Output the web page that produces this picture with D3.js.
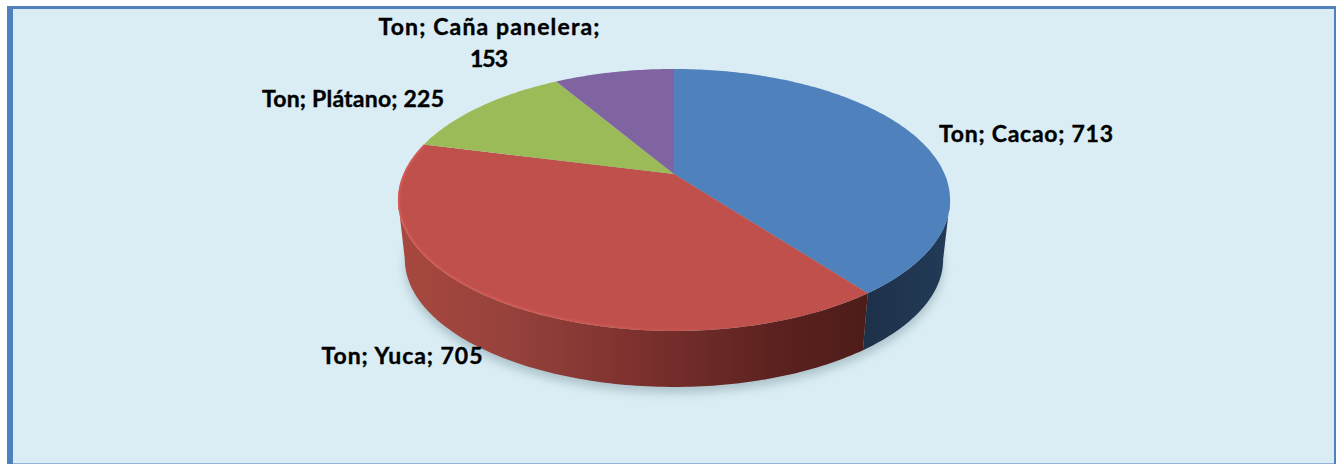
<!DOCTYPE html>
<html><head><meta charset="utf-8">
<script src="https://cdn.jsdelivr.net/npm/d3@7"></script>
<style>html,body{margin:0;padding:0;background:#fff;overflow:hidden}svg{display:block}</style>
</head><body><svg id="c" width="1336" height="464"></svg>
<script>
const categories = ["Cacao","Yuca","Plátano","Caña panelera"];
const values = [713,705,225,153];
const seriesName = "Ton";
const labelLines = categories.map((n,i)=>{
  const full=`${seriesName}; ${n}; ${values[i]}`;
  return n.length>10?[`${seriesName}; ${n};`,`${values[i]}`]:[full];
});

// layout and style
const topColors = ["#4f81bd","#bf504c","#9bbb59","#8064a2"];
const labelPos = [[1026,142],[402,364],[353,107],[489,35]];
const labelW = [[174],[161],[182],[221,38]];
const svg=d3.select("#c");
const defs=svg.append("defs");
// perspective disc
const cx=674, apexY=174, R=270.6, persp=-0.198, spread=91.4;
const baseScale=.975, baseShift=59.3, midY=200;
const project=t=>{const x=Math.sin(t),y=-Math.cos(t),d=1+persp*y;return [cx+R*x/d,(apexY+spread*y)/d];};
const projectBase=(t,extra=0)=>{const p=project(t);return [cx+(p[0]-cx)*baseScale,midY+(p[1]-midY)*baseScale+baseShift+extra];};
const sample=(f,t0,t1)=>{const n=Math.max(2,Math.ceil(Math.abs(t1-t0)*60));
  return d3.range(n+1).map(i=>f(t0+(t1-t0)*i/n));};
const line=d3.line();
const pie=d3.pie().sort(null).value(d=>d)(values);

// panel
svg.append("rect").attr("x",7).attr("y",6).attr("width",1329).attr("height",458).attr("fill","#4f81bd");
svg.append("rect").attr("x",13).attr("y",9).attr("width",1321).attr("height",454).attr("fill","#daedf4");
svg.append("rect").attr("x",13).attr("y",463).attr("width",1321).attr("height",1).attr("fill","#95b3d7");

// filters and gradients
defs.append("filter").attr("id","blur6").attr("x","-10%").attr("y","-10%").attr("width","120%").attr("height","130%")
  .append("feGaussianBlur").attr("stdDeviation",5);
defs.append("filter").attr("id","blur1").attr("x","-10%").attr("y","-10%").attr("width","120%").attr("height","120%")
  .append("feGaussianBlur").attr("stdDeviation",1.1);
const grad=(id,stops)=>{const g=defs.append("linearGradient").attr("id",id).attr("gradientUnits","userSpaceOnUse")
  .attr("x1",398).attr("x2",950).attr("y1",0).attr("y2",0);
  stops.forEach(s=>g.append("stop").attr("offset",s[0]).attr("stop-color",s[1]).attr("stop-opacity",s[2]===undefined?1:s[2]));};
grad("wall0",[[0,"#1d3149"],[.85,"#1d3149"],[1,"#233b58"]]);
grad("wall1",[[0,"#a8483f"],[.2,"#97423c"],[.45,"#7a302d"],[.7,"#5a211e"],[.85,"#4d1c19"]]);
grad("rim",[[0,"#e0615b",.8],[.25,"#e0615b",.7],[.55,"#d85c57",.3],[.8,"#c0504d",0]]);
const wallFill=["url(#wall0)","url(#wall1)","#6f8a3e","#5c4878"];

// visible range of the side wall
const vis=[Math.PI-Math.acos(0.198),Math.PI+Math.acos(0.198)];

// ground shadow
svg.append("path").attr("d",line(sample(t=>projectBase(t,6),0,2*Math.PI))+"Z")
  .attr("fill","#8fa6ad").attr("opacity",.6).attr("filter","url(#blur6)");

// side walls
const walls=svg.append("g");
pie.forEach((p,i)=>{
  const t0=Math.max(p.startAngle,vis[0]),t1=Math.min(p.endAngle,vis[1]);
  if(t1<=t0)return;
  const pts=sample(project,t0,t1).concat(sample(projectBase,t1,t0));
  walls.append("path").attr("d",line(pts)+"Z").attr("fill",wallFill[i]);
});

// top face
const topFace=svg.append("g");
pie.forEach((p,i)=>{
  const pts=[[cx,apexY]].concat(sample(project,p.startAngle,p.endAngle));
  topFace.append("path").attr("d",line(pts)+"Z").attr("fill",topColors[i]);
});
// rim highlight along the front and left edge of the largest front slice
const rimClip=defs.append("clipPath").attr("id","discClip");
rimClip.append("path").attr("d",line(sample(project,0,2*Math.PI))+"Z");
svg.append("g").attr("clip-path","url(#discClip)").append("path")
  .attr("filter","url(#blur1)")
  .attr("d",line(sample(project,pie[1].startAngle+0.25,pie[1].endAngle)))
  .attr("fill","none").attr("stroke","url(#rim)").attr("stroke-width",3.2);

// labels
const lab=svg.append("g").attr("font-family","Lato, 'Open Sans', sans-serif").attr("font-weight",700)
  .attr("font-size",23).attr("fill","#000").attr("stroke","#000").attr("stroke-width",.4).attr("text-anchor","middle");
labelLines.forEach((ls,i)=>{
  ls.forEach((t,j)=>lab.append("text").attr("x",labelPos[i][0]).attr("y",labelPos[i][1]+j*32)
    .attr("textLength",labelW[i][j]).attr("lengthAdjust","spacing").text(t));
});
</script></body></html>
